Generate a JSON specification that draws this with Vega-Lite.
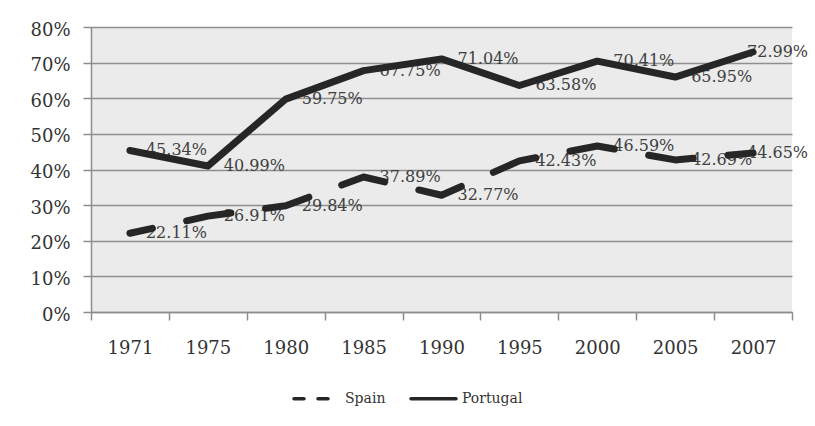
{
  "$schema": "https://vega.github.io/schema/vega-lite/v6.json",
  "width": 701,
  "height": 285,
  "autosize": {"type": "none"},
  "padding": {"left": 91, "top": 27, "right": 23, "bottom": 114},
  "background": "white",
  "config": {"view": {"fill": "#ebebeb", "stroke": null}, "font": "DejaVu Serif"},
  "data": {
    "values": [
      {"year": "1971", "country": "Spain", "value": 0.2211},
      {"year": "1975", "country": "Spain", "value": 0.2691},
      {"year": "1980", "country": "Spain", "value": 0.2984},
      {"year": "1985", "country": "Spain", "value": 0.3789},
      {"year": "1990", "country": "Spain", "value": 0.3277},
      {"year": "1995", "country": "Spain", "value": 0.4243},
      {"year": "2000", "country": "Spain", "value": 0.4659},
      {"year": "2005", "country": "Spain", "value": 0.4269},
      {"year": "2007", "country": "Spain", "value": 0.4465},
      {"year": "1971", "country": "Portugal", "value": 0.4534},
      {"year": "1975", "country": "Portugal", "value": 0.4099},
      {"year": "1980", "country": "Portugal", "value": 0.5975},
      {"year": "1985", "country": "Portugal", "value": 0.6775},
      {"year": "1990", "country": "Portugal", "value": 0.7104},
      {"year": "1995", "country": "Portugal", "value": 0.6358},
      {"year": "2000", "country": "Portugal", "value": 0.7041},
      {"year": "2005", "country": "Portugal", "value": 0.6595},
      {"year": "2007", "country": "Portugal", "value": 0.7299}
    ]
  },
  "encoding": {
    "x": {
      "field": "year",
      "type": "ordinal",
      "sort": null,
      "scale": {"type": "band", "paddingInner": 0, "paddingOuter": 0},
      "axis": {
        "title": null,
        "tickBand": "extent",
        "grid": false,
        "labelAngle": 0,
        "domainColor": "#8c8c8c",
        "domainWidth": 1.5,
        "tickColor": "#8c8c8c",
        "tickWidth": 1.5,
        "tickSize": 8,
        "labelFontSize": 18,
        "labelColor": "#333333",
        "labelPadding": 19
      }
    },
    "y": {
      "field": "value",
      "type": "quantitative",
      "scale": {"domain": [0, 0.8]},
      "axis": {
        "title": null,
        "format": ".0%",
        "values": [0, 0.1, 0.2, 0.3, 0.4, 0.5, 0.6, 0.7, 0.8],
        "gridColor": "#8f8f8f",
        "gridWidth": 1.5,
        "domainColor": "#8c8c8c",
        "domainWidth": 1.5,
        "tickColor": "#8c8c8c",
        "tickWidth": 1.5,
        "tickSize": 8,
        "labelFontSize": 18,
        "labelColor": "#333333",
        "labelPadding": 13,
        "labelOffset": 3
      }
    }
  },
  "layer": [
    {
      "transform": [{"filter": "datum.year !== '2007'"}],
      "mark": {"type": "text", "align": "left", "baseline": "middle", "dx": 16, "fontSize": 16, "color": "#404040"},
      "encoding": {"text": {"field": "value", "format": ".2%"}}
    },
    {
      "transform": [{"filter": "datum.year === '2007'"}],
      "mark": {"type": "text", "align": "left", "baseline": "middle", "dx": -6, "fontSize": 16, "color": "#404040"},
      "encoding": {"text": {"field": "value", "format": ".2%"}}
    },
    {
      "transform": [{"filter": "datum.country === 'Spain'"}],
      "mark": {"type": "line", "strokeWidth": 7, "strokeCap": "round", "strokeJoin": "round", "strokeDash": [45, 35], "strokeDashOffset": 22},
      "encoding": {
        "stroke": {
          "field": "country",
          "type": "nominal",
          "scale": {"domain": ["Spain", "Portugal"], "range": ["#262626", "#262626"]},
          "legend": {
            "orient": "none",
            "legendX": 201,
            "legendY": 347,
            "direction": "horizontal",
            "title": null,
            "symbolType": "stroke",
            "symbolSize": 2025,
            "symbolStrokeWidth": 3.5,
            "labelFontSize": 14,
            "labelColor": "#333333",
            "labelOffset": 4,
            "columnPadding": 18,
            "padding": 0,
            "encode": {
              "symbols": {
                "update": {
                  "strokeDash": {"signal": "datum.value === 'Spain' ? [10, 14] : [1, 0]"},
                  "strokeDashOffset": {"value": 0},
                  "strokeCap": {"value": "round"}
                }
              }
            }
          }
        }
      }
    },
    {
      "transform": [{"filter": "datum.country === 'Portugal'"}],
      "mark": {"type": "line", "strokeWidth": 7, "strokeCap": "round", "strokeJoin": "round"},
      "encoding": {
        "stroke": {
          "field": "country",
          "type": "nominal",
          "scale": {"domain": ["Spain", "Portugal"], "range": ["#262626", "#262626"]},
          "legend": {
            "orient": "none",
            "legendX": 201,
            "legendY": 347,
            "direction": "horizontal",
            "title": null,
            "symbolType": "stroke",
            "symbolSize": 2025,
            "symbolStrokeWidth": 3.5,
            "labelFontSize": 14,
            "labelColor": "#333333",
            "labelOffset": 4,
            "columnPadding": 18,
            "padding": 0,
            "encode": {
              "symbols": {
                "update": {
                  "strokeDash": {"signal": "datum.value === 'Spain' ? [10, 14] : [1, 0]"},
                  "strokeDashOffset": {"value": 0},
                  "strokeCap": {"value": "round"}
                }
              }
            }
          }
        }
      }
    }
  ]
}
